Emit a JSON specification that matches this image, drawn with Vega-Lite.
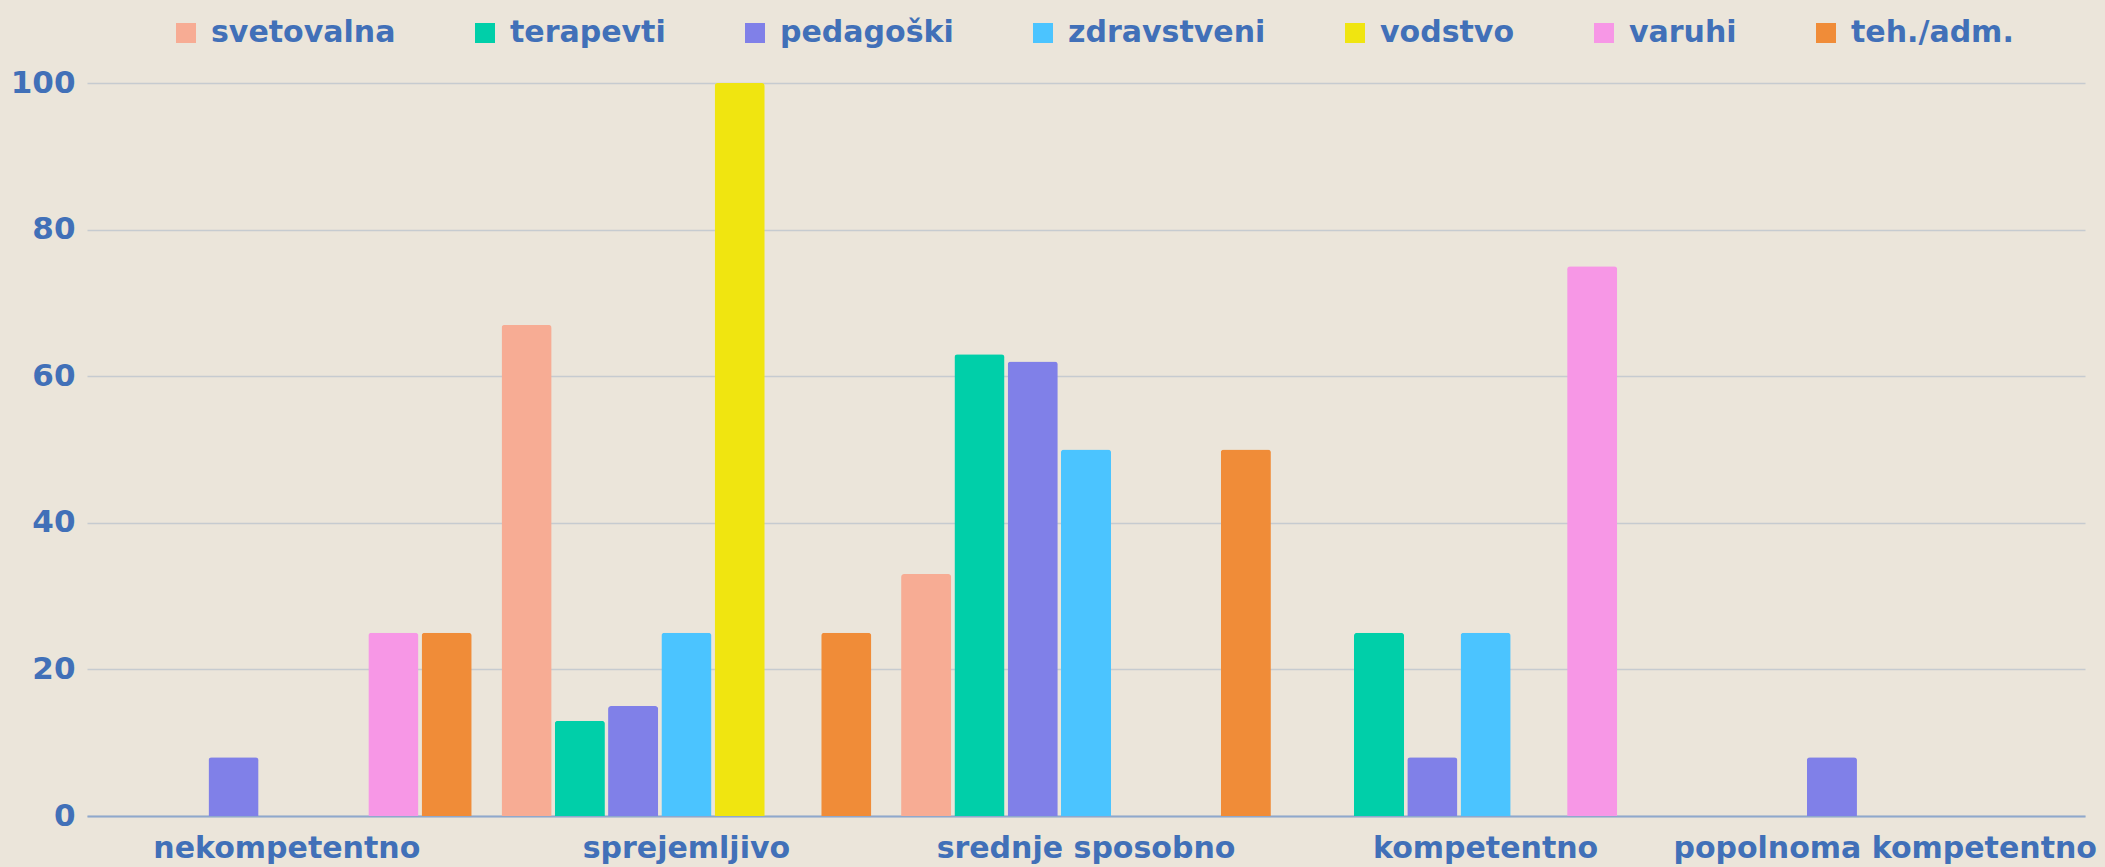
{
  "$schema": "https://vega.github.io/schema/vega-lite/v6.json",
  "autosize": {"type": "none"},
  "padding": {"left": 87, "top": 83, "right": 20, "bottom": 51},
  "width": 1998,
  "height": 733,
  "background": "#EBE5DA",
  "config": {
    "view": {"stroke": null},
    "font": "DejaVu Sans"
  },
  "data": {
    "values": [
      {"raven": "nekompetentno", "skupina": "pedagoški", "delez": 8},
      {"raven": "nekompetentno", "skupina": "varuhi", "delez": 25},
      {"raven": "nekompetentno", "skupina": "teh./adm.", "delez": 25},
      {"raven": "sprejemljivo", "skupina": "svetovalna", "delez": 67},
      {"raven": "sprejemljivo", "skupina": "terapevti", "delez": 13},
      {"raven": "sprejemljivo", "skupina": "pedagoški", "delez": 15},
      {"raven": "sprejemljivo", "skupina": "zdravstveni", "delez": 25},
      {"raven": "sprejemljivo", "skupina": "vodstvo", "delez": 100},
      {"raven": "sprejemljivo", "skupina": "teh./adm.", "delez": 25},
      {"raven": "srednje sposobno", "skupina": "svetovalna", "delez": 33},
      {"raven": "srednje sposobno", "skupina": "terapevti", "delez": 63},
      {"raven": "srednje sposobno", "skupina": "pedagoški", "delez": 62},
      {"raven": "srednje sposobno", "skupina": "zdravstveni", "delez": 50},
      {"raven": "srednje sposobno", "skupina": "teh./adm.", "delez": 50},
      {"raven": "kompetentno", "skupina": "terapevti", "delez": 25},
      {"raven": "kompetentno", "skupina": "pedagoški", "delez": 8},
      {"raven": "kompetentno", "skupina": "zdravstveni", "delez": 25},
      {"raven": "kompetentno", "skupina": "varuhi", "delez": 75},
      {"raven": "popolnoma kompetentno", "skupina": "pedagoški", "delez": 8}
    ]
  },
  "mark": {"type": "bar", "cornerRadiusTopLeft": 3, "cornerRadiusTopRight": 3},
  "encoding": {
    "x": {
      "field": "raven",
      "type": "nominal",
      "sort": ["nekompetentno", "sprejemljivo", "srednje sposobno", "kompetentno", "popolnoma kompetentno"],
      "scale": {"paddingInner": 0, "paddingOuter": 0},
      "axis": {
        "title": null,
        "labelAngle": 0,
        "labelFont": "DejaVu Sans",
        "labelFontWeight": "bold",
        "labelFontSize": 30,
        "labelColor": "#4170B8",
        "labelPadding": 17,
        "labelLimit": 0,
        "labelOverlap": false,
        "ticks": false,
        "domainColor": "#8FA8CC",
        "domainWidth": 2,
        "grid": false
      }
    },
    "xOffset": {
      "field": "skupina",
      "type": "nominal",
      "scale": {
        "domain": ["svetovalna", "terapevti", "pedagoški", "zdravstveni", "vodstvo", "varuhi", "teh./adm."],
        "paddingInner": 0.06,
        "paddingOuter": 0.28
      }
    },
    "y": {
      "field": "delez",
      "type": "quantitative",
      "scale": {"domain": [0, 100], "nice": false},
      "axis": {
        "title": null,
        "values": [0, 20, 40, 60, 80, 100],
        "labelFont": "DejaVu Sans",
        "labelFontWeight": "bold",
        "labelFontSize": 31,
        "labelColor": "#4170B8",
        "labelPadding": 12,
        "ticks": false,
        "domain": false,
        "gridColor": "#C6CBD0",
        "gridWidth": 1.5
      }
    },
    "color": {
      "field": "skupina",
      "type": "nominal",
      "scale": {
        "domain": ["svetovalna", "terapevti", "pedagoški", "zdravstveni", "vodstvo", "varuhi", "teh./adm."],
        "range": ["#F7AC94", "#00CFA9", "#8080E8", "#4BC4FF", "#F0E510", "#F797E6", "#F08C38"]
      },
      "legend": {
        "title": null,
        "orient": "none",
        "direction": "horizontal",
        "legendX": 84,
        "legendY": -65,
        "columns": 7,
        "padding": 0,
        "symbolType": "square",
        "symbolSize": 400,
        "symbolStrokeWidth": 0,
        "symbolOpacity": 1,
        "labelFont": "DejaVu Sans",
        "labelFontWeight": "bold",
        "labelFontSize": 30,
        "labelColor": "#4170B8",
        "labelOffset": 10,
        "columnPadding": 74,
        "labelLimit": 400
      }
    }
  }
}
